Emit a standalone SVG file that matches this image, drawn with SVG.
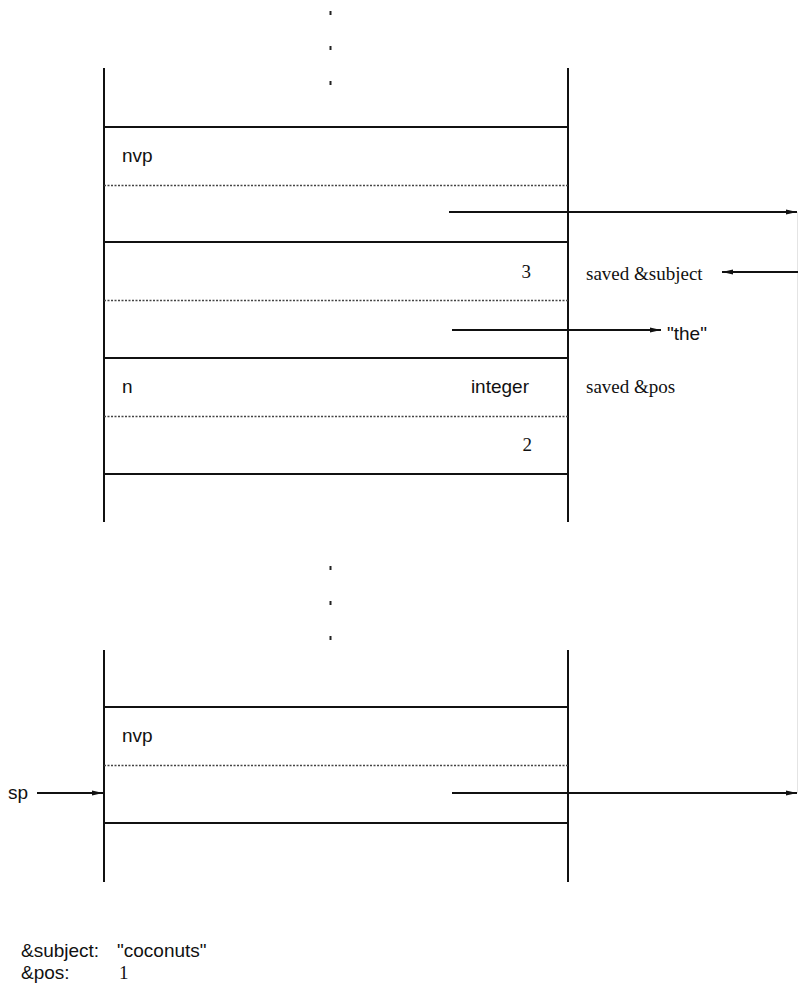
<svg xmlns="http://www.w3.org/2000/svg" width="798" height="986" viewBox="0 0 798 986">
<style>
.wall{stroke:#111;stroke-width:2;fill:none}
.solid{stroke:#111;stroke-width:2;fill:none}
.dot{stroke:#444;stroke-width:1.5;stroke-dasharray:2,1.5;fill:none}
.conn{stroke:#111;stroke-width:2;fill:none}
.sans{font-family:"Liberation Sans",Arial,sans-serif;font-size:19px;fill:#111}
.serif{font-family:"Liberation Serif","Times New Roman",serif;font-size:19px;fill:#111}
</style>
<defs>
<marker id="ah" markerWidth="12" markerHeight="8" refX="11" refY="4" orient="auto" markerUnits="userSpaceOnUse">
<path d="M0,1.5 L11,4 L0,6.5 Z" fill="#111"/>
</marker>
</defs>
<rect width="798" height="986" fill="#fff"/>
<g id="dots-top" fill="#222">
<rect x="329.5" y="11" width="2" height="4"/>
<rect x="329.5" y="46" width="2" height="4"/>
<rect x="329.5" y="81" width="2" height="4"/>
</g>
<g id="stack-upper">
<line class="wall" x1="104" y1="68" x2="104" y2="522"/>
<line class="wall" x1="568" y1="68" x2="568" y2="522"/>
<line class="solid" x1="104" y1="127" x2="568" y2="127"/>
<line class="dot" x1="104" y1="185.5" x2="568" y2="185.5"/>
<line class="solid" x1="104" y1="242" x2="568" y2="242"/>
<line class="dot" x1="104" y1="300.5" x2="568" y2="300.5"/>
<line class="solid" x1="104" y1="358" x2="568" y2="358"/>
<line class="dot" x1="104" y1="416.5" x2="568" y2="416.5"/>
<line class="solid" x1="104" y1="474" x2="568" y2="474"/>
<text class="sans" x="122" y="162">nvp</text>
<text class="serif" x="531" y="278" text-anchor="end">3</text>
<text class="sans" x="122" y="393">n</text>
<text class="sans" x="529" y="393" text-anchor="end">integer</text>
<text class="serif" x="532" y="451" text-anchor="end">2</text>
</g>
<g id="labels-right">
<text class="serif" x="586" y="280">saved &amp;subject</text>
<text class="serif" x="586" y="393">saved &amp;pos</text>
<text class="sans" x="667" y="340">"the"</text>
</g>
<g id="dots-mid" fill="#222">
<rect x="329.5" y="566" width="2" height="4"/>
<rect x="329.5" y="601" width="2" height="4"/>
<rect x="329.5" y="636" width="2" height="4"/>
</g>
<g id="stack-lower">
<line class="wall" x1="104" y1="650" x2="104" y2="882"/>
<line class="wall" x1="568" y1="650" x2="568" y2="882"/>
<line class="solid" x1="104" y1="707" x2="568" y2="707"/>
<line class="dot" x1="104" y1="765.5" x2="568" y2="765.5"/>
<line class="solid" x1="104" y1="823" x2="568" y2="823"/>
<text class="sans" x="122" y="742">nvp</text>
</g>
<g id="sp-label">
<text class="sans" x="8" y="799">sp</text>
</g>
<g id="globals">
<text class="sans" x="21" y="957">&amp;subject:</text>
<text class="sans" x="117" y="957">"coconuts"</text>
<text class="sans" x="21" y="979">&amp;pos:</text>
<text class="serif" x="119" y="979">1</text>
</g>
<g id="connectors">
<line x1="797.5" y1="212" x2="797.5" y2="793" stroke="#e4e4e4" stroke-width="1"/>
<line class="conn" x1="449" y1="212" x2="797" y2="212" marker-end="url(#ah)"/>
<line class="conn" x1="798" y1="272" x2="722" y2="272" marker-end="url(#ah)"/>
<line class="conn" x1="452" y1="330" x2="661" y2="330" marker-end="url(#ah)"/>
<line class="conn" x1="37" y1="793" x2="103" y2="793" marker-end="url(#ah)"/>
<line class="conn" x1="452" y1="793" x2="797" y2="793" marker-end="url(#ah)"/>
</g>
</svg>
